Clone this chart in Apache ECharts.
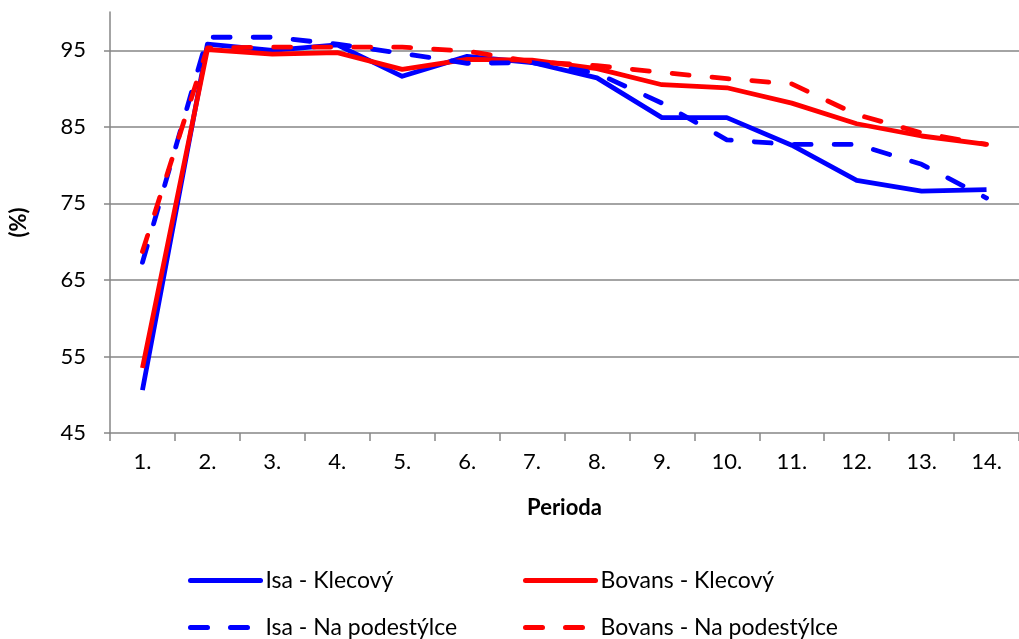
<!DOCTYPE html>
<html>
<head>
<meta charset="utf-8">
<script src="https://cdn.jsdelivr.net/npm/echarts@6/dist/echarts.min.js"></script>
<style>
html,body{margin:0;padding:0;background:#fff;}
#chart{width:1019px;height:639px;}
</style>
</head>
<body>
<div id="chart"></div>
<script>
const categories = ['1.','2.','3.','4.','5.','6.','7.','8.','9.','10.','11.','12.','13.','14.'];
const isaKlecovy = [50.6, 95.8, 95.0, 95.7, 91.6, 94.2, 93.4, 91.4, 86.2, 86.2, 82.6, 78.0, 76.6, 76.8];
const bovansKlecovy = [53.5, 95.1, 94.5, 94.7, 92.5, 93.8, 93.7, 92.6, 90.5, 90.1, 88.1, 85.4, 83.8, 82.7];
const isaPodestylka = [67.3, 96.7, 96.7, 95.8, 94.6, 93.3, 93.4, 92.0, 88.1, 83.3, 82.7, 82.7, 80.1, 75.7];
const bovansPodestylka = [68.7, 95.3, 95.4, 95.4, 95.4, 94.9, 93.5, 93.0, 92.1, 91.3, 90.6, 86.6, 84.2, 82.7];
const seriesNames = ['Isa - Klecový', 'Bovans - Klecový', 'Isa - Na podestýlce', 'Bovans - Na podestýlce'];

const FONT = 'Lato';
const chart = echarts.init(document.getElementById('chart'));

function mk(name, data, color, dashed) {
  return {
    name: name, type: 'line', data: data,
    symbol: 'none', showSymbol: false, smooth: false,
    lineStyle: { color: color, width: 4.8, type: dashed ? [17, 23] : 'solid', cap: dashed ? 'round' : 'butt', join: 'round' },
    itemStyle: { color: color },
    emphasis: { disabled: true },
    z: dashed ? 3 : 2
  };
}

function lg(name, left, top) {
  return {
    data: [name], left: left, top: top, orient: 'horizontal',
    itemWidth: 70, itemHeight: 20, padding: 0,
    textStyle: { fontFamily: FONT, fontSize: 23, color: '#000' },
    itemStyle: { opacity: 0 },
    lineStyle: { width: 5, cap: 'round' },
    selectedMode: false
  };
}

chart.setOption({
  animation: false,
  backgroundColor: '#fff',
  grid: { left: 110, right: -5, top: 12, bottom: 206, containLabel: false },
  legend: [
    lg(seriesNames[0], 188, 569),
    lg(seriesNames[2], 188, 616),
    lg(seriesNames[1], 523, 569),
    lg(seriesNames[3], 523, 616)
  ],
  xAxis: {
    type: 'category', data: categories, boundaryGap: true,
    name: 'Perioda', nameLocation: 'middle', nameGap: 64,
    nameTextStyle: { fontFamily: FONT, fontSize: 22, fontWeight: 'bold', color: '#000' },
    axisLine: { lineStyle: { color: '#868686', width: 1.5 } },
    axisTick: { show: true, length: 8, alignWithLabel: false, lineStyle: { color: '#868686', width: 1.5 } },
    axisLabel: { fontFamily: FONT, fontSize: 22, color: '#000', margin: 18 },
    splitLine: { show: false }
  },
  yAxis: {
    type: 'value', min: 45, max: 100, interval: 10,
    name: '(%)', nameLocation: 'middle', nameGap: 80, nameRotate: 90,
    nameTextStyle: { fontFamily: FONT, fontSize: 22, fontWeight: 'bold', color: '#000' },
    axisLine: { show: true, lineStyle: { color: '#868686', width: 1.5 } },
    axisTick: { show: true, length: 6, lineStyle: { color: '#868686', width: 1.5 } },
    axisLabel: { fontFamily: FONT, fontSize: 22, color: '#000', margin: 24, showMaxLabel: false },
    splitLine: { show: true, showMinLine: false, showMaxLine: false, lineStyle: { color: '#868686', width: 1.5 } }
  },
  series: [
    mk(seriesNames[0], isaKlecovy, '#0000FF', false),
    mk(seriesNames[1], bovansKlecovy, '#FF0000', false),
    mk(seriesNames[2], isaPodestylka, '#0000FF', true),
    mk(seriesNames[3], bovansPodestylka, '#FF0000', true)
  ]
});
</script>
</body>
</html>
